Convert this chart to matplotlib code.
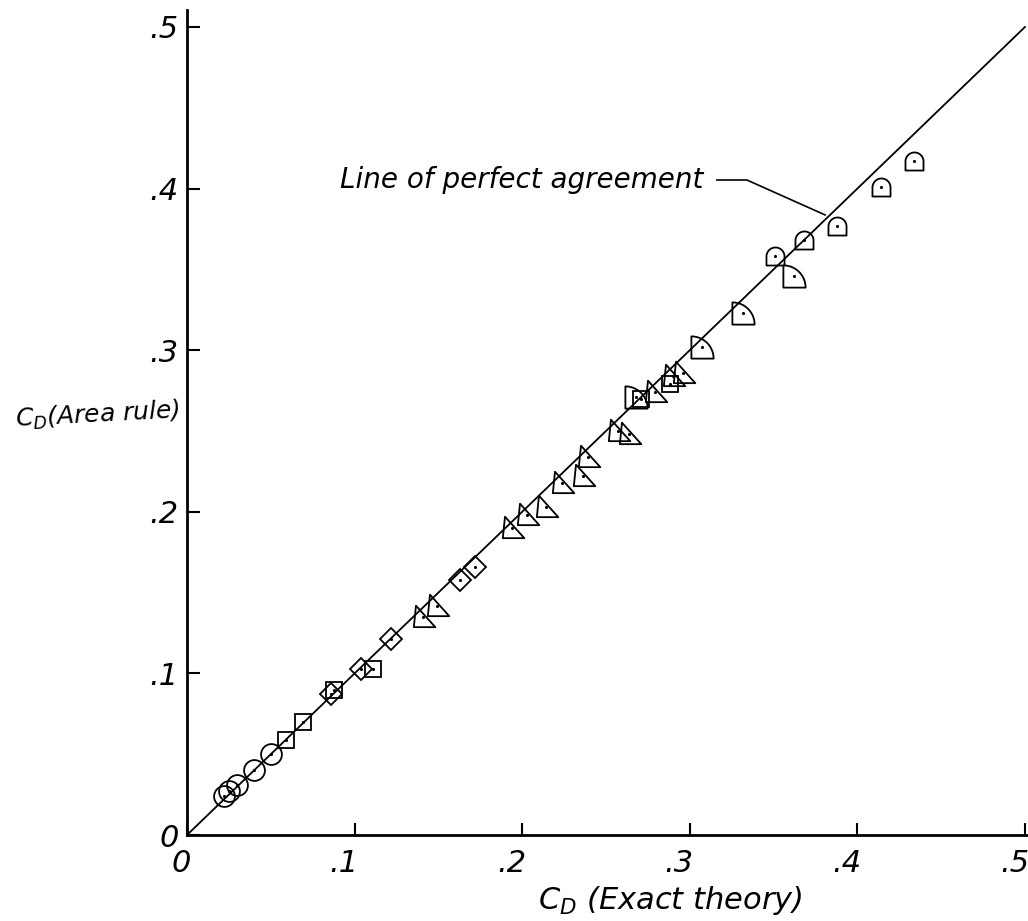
import numpy as np
import matplotlib
matplotlib.use("Agg")
from matplotlib import pyplot as plt
from matplotlib.path import Path
from matplotlib.transforms import ScaledTranslation

plt.rcParams['font.family'] = ['DejaVu Sans']
plt.rcParams['mathtext.fontset'] = 'dejavusans'

# drag coefficient, exact theory vs area rule, grouped by body family
circle_x = [0.022, 0.025, 0.030, 0.040, 0.050]
circle_y = [0.024, 0.027, 0.031, 0.040, 0.050]
square_x = [0.059, 0.069, 0.088, 0.111, 0.271, 0.288]
square_y = [0.059, 0.070, 0.090, 0.103, 0.270, 0.279]
diamond_x = [0.086, 0.104, 0.122, 0.163, 0.172]
diamond_y = [0.087, 0.103, 0.121, 0.158, 0.166]
tri_x = [0.141, 0.149, 0.194, 0.203, 0.214, 0.224, 0.236, 0.239, 0.257, 0.264, 0.279, 0.290, 0.296]
tri_y = [0.135, 0.142, 0.190, 0.198, 0.203, 0.218, 0.222, 0.234, 0.250, 0.248, 0.274, 0.284, 0.286]
quarter_x = [0.268, 0.307, 0.332, 0.362]
quarter_y = [0.271, 0.302, 0.323, 0.346]
arch_x = [0.351, 0.368, 0.388, 0.414, 0.434]
arch_y = [0.358, 0.368, 0.377, 0.401, 0.417]

tick_vals = [0, 0.1, 0.2, 0.3, 0.4, 0.5]
tick_text = ['0', '.1', '.2', '.3', '.4', '.5']

# custom marker outlines
t = np.linspace(np.pi / 2, 0, 20)
quarter_verts = [(-0.5, -0.5), (-0.5, 0.5)] + list(zip(-0.5 + np.cos(t), -0.5 + np.sin(t))) + [(-0.5, -0.5)]
quarter = Path(quarter_verts, closed=True)

t2 = np.linspace(0, np.pi, 24)
arch_verts = [(-0.5, -0.5), (0.5, -0.5), (0.5, 0.0)] + list(zip(0.5 * np.cos(t2), 0.5 * np.sin(t2))) + [(-0.5, -0.5)]
arch = Path(arch_verts, closed=True)

tri = Path([(-0.45, -0.45), (0.55, -0.45), (-0.35, 0.55), (-0.45, -0.45)], closed=True)

fig = plt.figure(figsize=(10.28, 9.21), dpi=100)
ax = fig.add_axes([187 / 1028, 86 / 921, 841 / 1028, 825 / 921])
ax.set_xlim(0, 0.5018)
ax.set_ylim(0, 0.5105)

ax.spines['top'].set_visible(False)
ax.spines['right'].set_visible(False)
for s in ['left', 'bottom']:
    ax.spines[s].set_linewidth(2.0)

ax.plot([0, 0.5], [0, 0.5], color='k', lw=1.3, zorder=2)

kw = dict(ls='none', mfc='none', mec='k', mew=1.3, zorder=3)
ax.plot(circle_x, circle_y, marker='o', ms=15, **kw)
ax.plot(square_x, square_y, marker='s', ms=12, **kw)
ax.plot(diamond_x, diamond_y, marker='D', ms=11, **kw)
ax.plot(tri_x, tri_y, marker=tri, ms=17, **kw)
ax.plot(quarter_x, quarter_y, marker=quarter, ms=16, **kw)
ax.plot(arch_x, arch_y, marker=arch, ms=13, **kw)

all_x = circle_x + square_x + diamond_x + tri_x + quarter_x + arch_x
all_y = circle_y + square_y + diamond_y + tri_y + quarter_y + arch_y
ax.plot(all_x, all_y, ls='none', marker='.', ms=2.5, color='k', zorder=4)

ax.set_xticks(tick_vals)
ax.set_yticks(tick_vals)
ax.set_xticklabels(tick_text, fontsize=22, style='italic')
ax.set_yticklabels(tick_text, fontsize=22, style='italic')
ax.tick_params(direction='in', length=9, width=1.5, pad=10)
ax.tick_params(axis='y', pad=6)

# hand-lettered x labels sit just left of their ticks
shift = ScaledTranslation(4 / 100, 0, fig.dpi_scale_trans)
for lab in ax.get_xticklabels():
    lab.set_horizontalalignment('right')
    lab.set_transform(lab.get_transform() + shift)

# leader from the label to the diagonal
ax.plot([0.3162, 0.3341, 0.3807], [0.4053, 0.4053, 0.3837], color='k', lw=1.2)
ax.text(0.308, 0.4053, 'Line of perfect agreement', fontsize=20, style='italic',
        ha='right', va='center')

fig.text(98 / 1028, 1 - 415 / 921, r'$C_D$(Area rule)', fontsize=18, style='italic',
         ha='center', va='center', rotation=3)
fig.text(670 / 1028, 1 - 900 / 921, r'$C_D$ (Exact theory)', fontsize=22, style='italic',
         ha='center', va='center')

fig.savefig('out.png', dpi=100)
